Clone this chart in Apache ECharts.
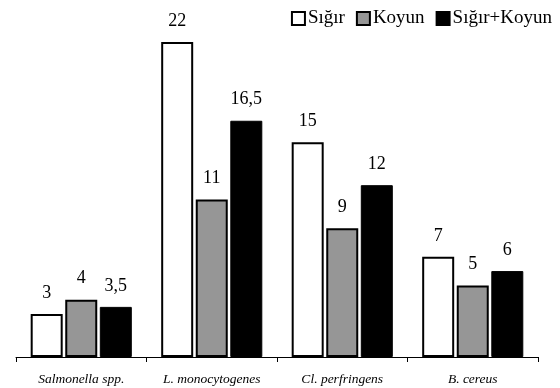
<!DOCTYPE html>
<html><head><meta charset="utf-8">
<script src="https://cdn.jsdelivr.net/npm/echarts@6/dist/echarts.min.js"></script>
<style>html,body{margin:0;padding:0;background:#fff}#c{width:560px;height:388px}</style>
</head><body><div id="c"></div>
<script>
const categories = ['Salmonella spp.', 'L. monocytogenes', 'Cl. perfringens', 'B. cereus'];
const sigir = [3, 22, 15, 7];
const koyun = [4, 11, 9, 5];
const sigirKoyun = [3.5, 16.5, 12, 6];
const seriesNames = ['Sığır', 'Koyun', 'Sığır+Koyun'];

const font = '"Liberation Serif", "Times New Roman", serif';
const fmt = p => String(p.value).replace('.', ',');
function mk(name, data, color, border) {
  return {
    name, type: 'bar', data, barWidth: 32, barGap: '8%',
    itemStyle: { color, borderColor: '#000', borderWidth: border },
    label: { show: true, position: 'top', distance: 12, formatter: fmt,
      fontFamily: font, fontSize: 18, color: '#000' }
  };
}
const chart = echarts.init(document.getElementById('c'));
chart.setOption({
  animation: false,
  textStyle: { fontFamily: font },
  legend: {
    top: 4, right: 3, itemWidth: 13, itemHeight: 13, itemGap: 11,
    textStyle: { fontFamily: font, fontSize: 19, color: '#000', padding: [0, 0, 0, -2] },
    data: seriesNames.map(n => ({ name: n, icon: 'rect' }))
  },
  grid: { left: 16, right: 22, top: 42, bottom: 31 },
  xAxis: {
    type: 'category', data: categories,
    axisLine: { lineStyle: { color: '#000', width: 1 } },
    axisTick: { show: true, length: 5, lineStyle: { color: '#000' } },
    axisLabel: { fontFamily: font, fontStyle: 'italic', fontSize: 13.5, color: '#000', margin: 15 }
  },
  yAxis: { type: 'value', min: 0, max: 22, show: false, splitLine: { show: false } },
  series: [
    mk(seriesNames[0], sigir, '#fff', 2),
    mk(seriesNames[1], koyun, '#969696', 2),
    mk(seriesNames[2], sigirKoyun, '#000', 1)
  ]
});
</script></body></html>
